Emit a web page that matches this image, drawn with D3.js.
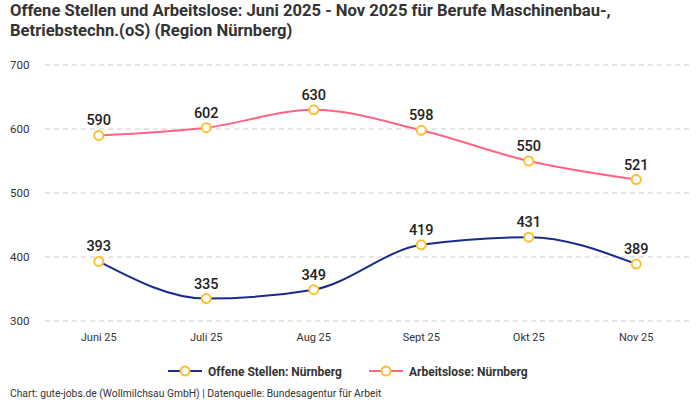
<!DOCTYPE html>
<html><head><meta charset="utf-8">
<script src="https://cdn.jsdelivr.net/npm/d3@7"></script>
<style>
body{margin:0;background:#fff;}
svg{font-family:"Roboto","Noto Sans",sans-serif;}
</style></head>
<body><svg id="c" width="700" height="400"></svg>
<script>
const categories = ["Juni 25","Juli 25","Aug 25","Sept 25","Okt 25","Nov 25"];
const offeneStellen = [393,335,349,419,431,389];
const arbeitslose = [590,602,630,598,550,521];
const yTicks = [300,400,500,600,700];
const seriesNames = ["Offene Stellen: Nürnberg","Arbeitslose: Nürnberg"];
const seriesColors = ["#1a2b8c","#ff6482"];
const title1 = "Offene Stellen und Arbeitslose: Juni 2025 - Nov 2025 für Berufe Maschinenbau-,";
const title2 = "Betriebstechn.(oS) (Region Nürnberg)";
const footer = "Chart: gute-jobs.de (Wollmilchsau GmbH) | Datenquelle: Bundesagentur für Arbeit";

const svg = d3.select("#c");
const x = d3.scaleBand().domain(categories).range([45,690]);
const y = d3.scaleLinear().domain([300,700]).range([321,65]);

svg.append("text").attr("x",10).attr("y",16).attr("font-size",16.6).attr("font-weight",700).attr("fill","#333").text(title1);
svg.append("text").attr("x",10).attr("y",36).attr("font-size",16.6).attr("font-weight",700).attr("fill","#333").text(title2);

const grid = svg.append("g");
grid.selectAll("line").data(yTicks).join("line")
  .attr("x1",45).attr("x2",692).attr("y1",d=>y(d)).attr("y2",d=>y(d))
  .attr("stroke","#ccc").attr("stroke-dasharray","5,4").attr("stroke-width",1);
grid.selectAll("text").data(yTicks).join("text")
  .attr("x",10).attr("y",d=>y(d)+4).attr("font-size",11.5).attr("fill","#333").text(d=>d);

svg.append("g").selectAll("text").data(categories).join("text")
  .attr("x",d=>x(d)+x.bandwidth()/2).attr("y",341).attr("text-anchor","middle")
  .attr("font-size",11).attr("fill","#333").text(d=>d);

const cx = (d,i)=>x(categories[i])+x.bandwidth()/2;
const line = d3.line().x((d,i)=>cx(d,i)).y(d=>y(d)).curve(d3.curveMonotoneX);
[[offeneStellen,seriesColors[0]],[arbeitslose,seriesColors[1]]].forEach(([data,col])=>{
  const g = svg.append("g");
  g.append("path").attr("d",line(data)).attr("fill","none").attr("stroke",col).attr("stroke-width",2);
  g.selectAll("circle").data(data).join("circle")
    .attr("cx",(d,i)=>cx(d,i)).attr("cy",d=>y(d)).attr("r",4.5)
    .attr("fill","#fff").attr("stroke","#fbc02d").attr("stroke-width",2);
  g.selectAll("text").data(data).join("text")
    .attr("x",(d,i)=>cx(d,i)).attr("y",d=>y(d)-10).attr("text-anchor","middle")
    .attr("font-size",14.5).attr("font-weight",500).attr("fill","#222").text(d=>d);
});

// legend
const leg = svg.append("g");
const legX = [168,369];
seriesNames.forEach((n,i)=>{
  const lx = legX[i], ly = 371;
  leg.append("line").attr("x1",lx).attr("x2",lx+34).attr("y1",ly).attr("y2",ly).attr("stroke",seriesColors[i]).attr("stroke-width",2);
  leg.append("circle").attr("cx",lx+17).attr("cy",ly).attr("r",4.5).attr("fill","#fff").attr("stroke","#fbc02d").attr("stroke-width",2);
  leg.append("text").attr("x",lx+40).attr("y",ly+5).attr("font-size",12).attr("font-weight",700).attr("fill","#333").text(n);
});

svg.append("text").attr("x",10).attr("y",397).attr("font-size",10.3).attr("fill","#333").text(footer);
</script></body></html>
